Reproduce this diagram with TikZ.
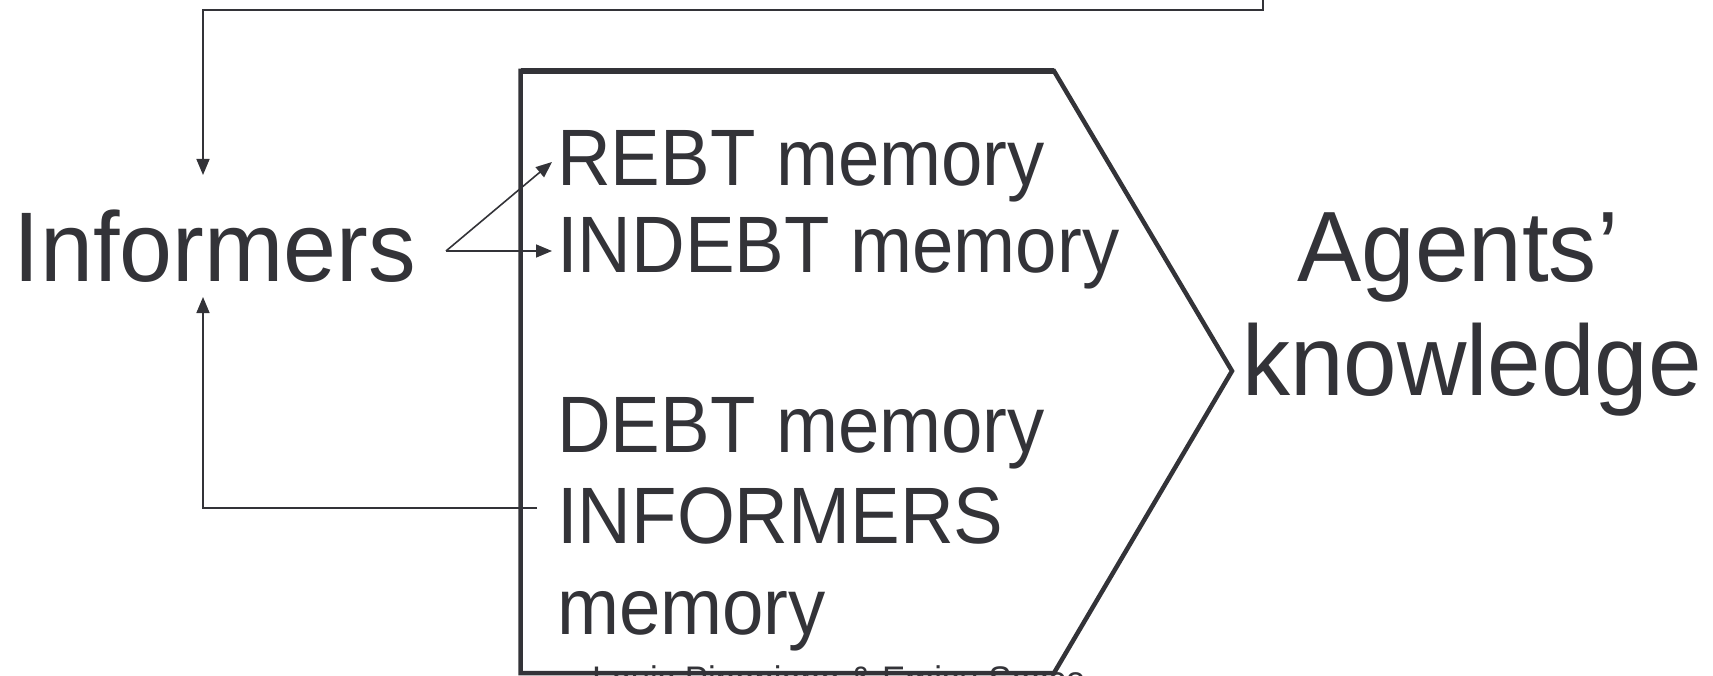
\documentclass[tikz,border=0pt]{standalone}
\usepackage{fontspec}
\setmainfont{Liberation Sans}[FakeStretch=0.94]
\newfontfamily\memfont{Liberation Sans}[FakeStretch=0.93]
\newfontfamily\bigfont{Liberation Sans}[FakeStretch=0.962]
\usetikzlibrary{arrows.meta}
\definecolor{ink}{RGB}{51,51,56}
\tikzset{
  lbl/.style={inner sep=0pt, text=ink},
  memtxt/.style={lbl, anchor=base west, font=\memfont\fontsize{80}{89}\selectfont},
  bigtxt/.style={lbl, anchor=base, font=\bigfont\fontsize{100}{113}\selectfont},
  conn/.style={draw=ink, line width=1.6pt, -{Triangle[length=16pt,width=13pt]}},
  frame/.style={draw=ink, line width=4.5pt, line join=miter}
}
\begin{document}
\begin{tikzpicture}[x=1pt,y=-1pt]
\useasboundingbox (0,0) rectangle (1713,676);
\clip (0,0) rectangle (1713,676);
\fill[white] (0,0) rectangle (1713,676);

% frame (pentagon arrow shape)
\coordinate (fbl) at (520.5,673);
\coordinate (ftl) at (520.5,71);
\coordinate (ftr) at (1054,71);
\coordinate (ftip) at (1232,371);
\coordinate (fbr) at (1054,673);
\draw[frame] (fbl) -- (ftl) -- (ftr) -- (ftip) -- (fbr) -- cycle;
\draw[draw=ink, line width=6pt] (ftl) -- (ftr);

% texts
\node[bigtxt, font=\bigfont\fontsize{99}{110}\selectfont] (inf) at (215,282) {Informers};
\node[memtxt] (rebt) at (557,186) {REBT memory};
\node[memtxt] (indebt) at (557,273) {INDEBT memory};
\node[memtxt] (debt) at (557,452) {DEBT memory};
\node[memtxt] (infmem) at (557,543) {INFORMERS};
\node[memtxt] (infmem2) at (557,634) {memory};
\node[lbl, anchor=base west, font=\fontsize{37}{40}\selectfont] (foot) at (592,692) {Louis Pinoniano \& Emisu Sacco};
\node[bigtxt] (ak1) at (1458,282) {Agents’};
\node[bigtxt] (ak2) at (1472,395) {knowledge};

% connectors
\coordinate (src) at (446,251);
\coordinate (tipA) at (552,162);
\coordinate (tipB) at (552,251);
\draw[conn] (src) -- (tipA);
\draw[conn] (src) -- (tipB);

\coordinate (fbS) at (537,508);
\coordinate (fbC) at (203,508);
\coordinate (fbT) at (203,297);
\draw[conn] (fbS) -- (fbC) -- (fbT);

\coordinate (topS) at (1263,-2);
\coordinate (topR) at (1263,10);
\coordinate (topL) at (203,10);
\coordinate (topT) at (203,175);
\draw[conn] (topS) -- (topR) -- (topL) -- (topT);
\end{tikzpicture}
\end{document}
